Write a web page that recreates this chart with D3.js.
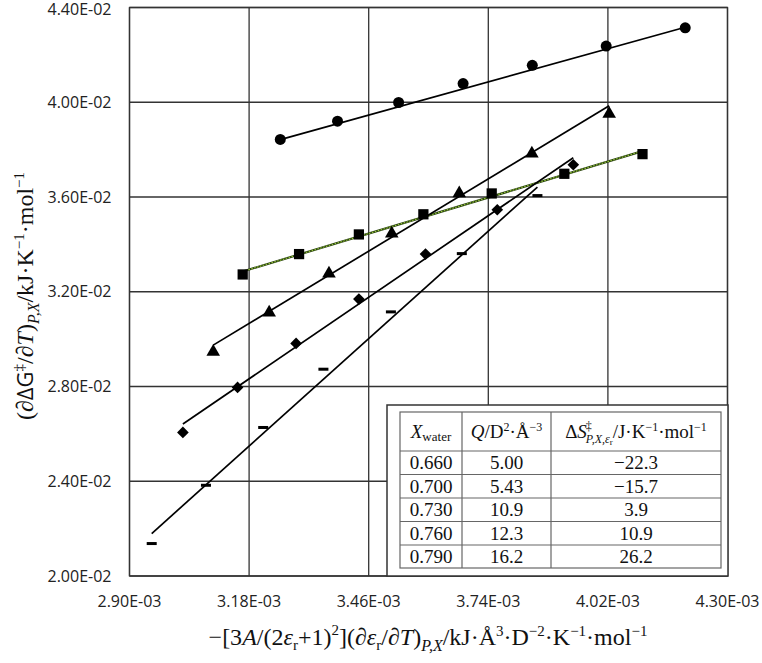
<!DOCTYPE html>
<html>
<head>
<meta charset="utf-8">
<script src="https://d3js.org/d3.v7.min.js"></script>
<style>
    body { margin: 0; background: #fff; }
    .tick-label { font-family: "Open Sans", sans-serif; font-size: 16px; fill: #222; }
    .title { font-family: "Liberation Serif", serif; font-size: 24px; fill: #111; }
    .cell { font-family: "Liberation Serif", serif; font-size: 19px; fill: #111; }
</style>
</head>
<body>
<svg id="chart" width="762" height="663"></svg>

<script>
// axis ticks
const xTicks = [0.00290, 0.00318, 0.00346, 0.00374, 0.00402, 0.00430];
const yTicks = [0.020, 0.024, 0.028, 0.032, 0.036, 0.040, 0.044];

// series (one per water mole fraction)
const circX = [0.003253, 0.003387, 0.003530, 0.003681, 0.003843, 0.004016, 0.004201];
const circY = [0.03843, 0.03920, 0.03999, 0.04079, 0.04156, 0.04237, 0.04314];
const squareX = [0.003165, 0.003297, 0.003437, 0.003588, 0.003748, 0.003918, 0.004101];
const squareY = [0.03273, 0.03359, 0.03442, 0.03527, 0.03615, 0.03698, 0.03781];
const triX = [0.003096, 0.003227, 0.003367, 0.003514, 0.003672, 0.003842, 0.004023];
const triY = [0.02946, 0.03112, 0.03277, 0.03446, 0.03615, 0.03783, 0.03951];
const diaX = [0.003025, 0.003153, 0.003290, 0.003437, 0.003593, 0.003761, 0.003939];
const diaY = [0.02606, 0.02796, 0.02982, 0.03169, 0.03359, 0.03546, 0.03736];
const dashX = [0.002952, 0.003079, 0.003213, 0.003354, 0.003512, 0.003678, 0.003855];
const dashY = [0.02137, 0.02383, 0.02627, 0.02873, 0.03115, 0.03361, 0.03606];

// table values
const xWater = ["0.660", "0.700", "0.730", "0.760", "0.790"];
const qValues = ["5.00", "5.43", "10.9", "12.3", "16.2"];
const dSValues = ["\u221222.3", "\u221215.7", "3.9", "10.9", "26.2"];

// trend lines: slope = Q, intercepts
const fitSlopes = [5.00, 5.43, 10.9, 12.3, 16.2];
const fitIntercepts = [0.02216, 0.01567, -0.00400, -0.01079, -0.02603];

const svg = d3.select("#chart");
const margin = { top: 7.5, left: 129.5, right: 34.5, bottom: 87 };
const width = +svg.attr("width");
const height = +svg.attr("height");
const plotW = width - margin.left - margin.right;
const plotH = height - margin.top - margin.bottom;

const x = d3.scaleLinear().domain([0.0029, 0.0043]).range([margin.left, margin.left + plotW]);
const y = d3.scaleLinear().domain([0.020, 0.044]).range([margin.top + plotH, margin.top]);

const sci = d => {
    const [m, e] = d.toExponential(2).split("e");
    const n = Math.abs(+e);
    return m + "E" + (+e < 0 ? "-" : "+") + (n < 10 ? "0" + n : n);
};

// grid
const grid = svg.append("g").attr("stroke", "#333").attr("stroke-width", 1.3);
grid.selectAll("line.v").data(xTicks).join("line")
    .attr("x1", d => x(d)).attr("x2", d => x(d))
    .attr("y1", y(0.020)).attr("y2", y(0.044));
grid.selectAll("line.h").data(yTicks).join("line")
    .attr("x1", x(0.0029)).attr("x2", x(0.0043))
    .attr("y1", d => y(d)).attr("y2", d => y(d));
svg.append("rect")
    .attr("x", x(0.0029)).attr("y", y(0.044))
    .attr("width", plotW).attr("height", plotH)
    .attr("fill", "none").attr("stroke", "#333").attr("stroke-width", 1.3);

// tick labels
svg.append("g").selectAll("text").data(xTicks).join("text")
    .attr("class", "tick-label")
    .attr("x", d => x(d)).attr("y", y(0.020) + 31)
    .attr("text-anchor", "middle")
    .text(sci);
svg.append("g").selectAll("text").data(yTicks).join("text")
    .attr("class", "tick-label")
    .attr("x", x(0.0029) - 18).attr("y", d => Math.max(y(d) + 5.5, 14.5))
    .attr("text-anchor", "end")
    .text(sci);

// series
const series = [
    { xs: circX, ys: circY, shape: "circle" },
    { xs: squareX, ys: squareY, shape: "square" },
    { xs: triX, ys: triY, shape: "triangle" },
    { xs: diaX, ys: diaY, shape: "diamond" },
    { xs: dashX, ys: dashY, shape: "dash" }
];

// trend lines
series.forEach((s, i) => {
    const x0 = d3.min(s.xs), x1 = d3.max(s.xs);
    const f = v => fitSlopes[i] * v + fitIntercepts[i];
    const seg = svg.append("line")
        .attr("x1", x(x0)).attr("y1", y(f(x0)))
        .attr("x2", x(x1)).attr("y2", y(f(x1)));
    if (s.shape === "square") {
        seg.attr("stroke", "#2c4512").attr("stroke-width", 2.2);
        svg.append("line")
            .attr("x1", x(x0)).attr("y1", y(f(x0)))
            .attr("x2", x(x1)).attr("y2", y(f(x1)))
            .attr("stroke", "#9ccc3c").attr("stroke-width", 1.1)
            .attr("stroke-dasharray", "1.5,1.5");
    } else {
        seg.attr("stroke", "#000").attr("stroke-width", 1.7);
    }
});

// markers
const symbolOf = {
    circle: d3.symbol().type(d3.symbolCircle).size(95),
    square: d3.symbol().type(d3.symbolSquare).size(105),
    triangle: d3.symbol().type(d3.symbolTriangle).size(80),
    diamond: d3.symbol().type(d3.symbolSquare).size(68)
};
series.forEach(s => {
    const pts = s.xs.map((v, i) => [v, s.ys[i]]);
    const g = svg.append("g");
    if (s.shape === "dash") {
        g.selectAll("rect").data(pts).join("rect")
            .attr("x", d => x(d[0]) - 5).attr("y", d => y(d[1]) - 1.5)
            .attr("width", 10).attr("height", 3).attr("fill", "#000");
    } else {
        const rot = s.shape === "diamond" ? " rotate(45)" : "";
        g.selectAll("path").data(pts).join("path")
            .attr("d", symbolOf[s.shape])
            .attr("transform", d => "translate(" + x(d[0]) + "," + y(d[1]) + ")" + rot)
            .attr("fill", "#000");
    }
});

// table box
const box = { x: 387, y: 405, w: 341, h: 171 };
svg.append("rect")
    .attr("x", box.x).attr("y", box.y).attr("width", box.w).attr("height", box.h)
    .attr("fill", "#fff").attr("stroke", "#333").attr("stroke-width", 1.5);

const tbl = { cols: [400, 462, 551, 721], rows: [412, 451, 474.5, 498, 521.5, 545, 568] };
const tg = svg.append("g").attr("stroke", "#666").attr("stroke-width", 1.2);
tg.append("rect")
    .attr("x", tbl.cols[0]).attr("y", tbl.rows[0])
    .attr("width", tbl.cols[3] - tbl.cols[0]).attr("height", tbl.rows[6] - tbl.rows[0])
    .attr("fill", "none");
tg.selectAll("line.r").data(tbl.rows.slice(1, 6)).join("line")
    .attr("x1", tbl.cols[0]).attr("x2", tbl.cols[3])
    .attr("y1", d => d).attr("y2", d => d);
tg.selectAll("line.c").data(tbl.cols.slice(1, 3)).join("line")
    .attr("x1", d => d).attr("x2", d => d)
    .attr("y1", tbl.rows[0]).attr("y2", tbl.rows[6]);

const colMid = [0, 1, 2].map(i => (tbl.cols[i] + tbl.cols[i + 1]) / 2);
const rowBase = i => (tbl.rows[i + 1] + tbl.rows[i + 2]) / 2 + 6.5;
[xWater, qValues, dSValues].forEach((col, ci) => {
    svg.append("g").selectAll("text").data(col).join("text")
        .attr("class", "cell")
        .attr("x", colMid[ci]).attr("y", (d, i) => rowBase(i))
        .attr("text-anchor", "middle")
        .text(d => d);
});

// table header
const hy = (tbl.rows[0] + tbl.rows[1]) / 2 + 6;
const h1 = svg.append("text").attr("class", "cell").attr("x", colMid[0]).attr("y", hy).attr("text-anchor", "middle");
h1.append("tspan").attr("font-style", "italic").text("X");
h1.append("tspan").attr("font-size", "13px").attr("dy", 3).text("water");

const h2 = svg.append("text").attr("class", "cell").attr("x", colMid[1]).attr("y", hy).attr("text-anchor", "middle");
h2.append("tspan").attr("font-style", "italic").text("Q");
h2.append("tspan").text("/D");
h2.append("tspan").attr("font-size", "12px").attr("dy", -7).text("2");
h2.append("tspan").attr("dy", 7).text("\u00b7\u00c5");
h2.append("tspan").attr("font-size", "12px").attr("dy", -7).text("\u22123");

const h3 = svg.append("text").attr("class", "cell").attr("x", colMid[2]).attr("y", hy).attr("text-anchor", "middle");
h3.append("tspan").text("\u0394");
h3.append("tspan").attr("font-style", "italic").text("S");
h3.append("tspan").attr("font-size", "12px").attr("dy", -8).attr("dx", -1).text("\u2021");
h3.append("tspan").attr("font-size", "12px").attr("font-style", "italic").attr("dy", 13).attr("dx", -6).text("P,X,\u03b5");
h3.append("tspan").attr("font-size", "9px").attr("dy", 2).text("r");
h3.append("tspan").attr("dy", -7).text("/J\u00b7K");
h3.append("tspan").attr("font-size", "12px").attr("dy", -7).text("\u22121");
h3.append("tspan").attr("dy", 7).text("\u00b7mol");
h3.append("tspan").attr("font-size", "12px").attr("dy", -7).text("\u22121");

// x axis title
const xt = svg.append("text").attr("class", "title")
    .attr("x", 428).attr("y", 645).attr("text-anchor", "middle");
xt.append("tspan").text("\u2212[3");
xt.append("tspan").attr("font-style", "italic").text("A");
xt.append("tspan").text("/(2");
xt.append("tspan").attr("font-style", "italic").text("\u03b5");
xt.append("tspan").attr("font-size", "15px").attr("dy", 5).text("r");
xt.append("tspan").attr("dy", -5).text("+1)");
xt.append("tspan").attr("font-size", "15px").attr("dy", -10).text("2");
xt.append("tspan").attr("dy", 10).text("](\u2202");
xt.append("tspan").attr("font-style", "italic").text("\u03b5");
xt.append("tspan").attr("font-size", "15px").attr("dy", 5).text("r");
xt.append("tspan").attr("dy", -5).text("/\u2202");
xt.append("tspan").attr("font-style", "italic").text("T");
xt.append("tspan").text(")");
xt.append("tspan").attr("font-size", "16px").attr("font-style", "italic").attr("dy", 6).text("P,X");
xt.append("tspan").attr("dy", -6).text("/kJ\u00b7\u00c5");
xt.append("tspan").attr("font-size", "15px").attr("dy", -9).text("3");
xt.append("tspan").attr("dy", 9).text("\u00b7D");
xt.append("tspan").attr("font-size", "15px").attr("dy", -9).text("\u22122");
xt.append("tspan").attr("dy", 9).text("\u00b7K");
xt.append("tspan").attr("font-size", "15px").attr("dy", -9).text("\u22121");
xt.append("tspan").attr("dy", 9).text("\u00b7mol");
xt.append("tspan").attr("font-size", "15px").attr("dy", -9).text("\u22121");

// y axis title
const yt = svg.append("text").attr("class", "title")
    .attr("transform", "translate(33,296) rotate(-90)")
    .attr("text-anchor", "middle");
yt.append("tspan").text("(\u2202");
yt.append("tspan").attr("font-family", "'Open Sans', sans-serif").attr("font-size", "22px").text("\u0394G");
yt.append("tspan").attr("font-size", "15px").attr("dy", -9).text("\u2021");
yt.append("tspan").attr("dy", 9).text("/\u2202");
yt.append("tspan").attr("font-style", "italic").text("T");
yt.append("tspan").text(")");
yt.append("tspan").attr("font-size", "16px").attr("font-style", "italic").attr("dy", 6).text("P,X");
yt.append("tspan").attr("dy", -6).text("/kJ\u00b7K");
yt.append("tspan").attr("font-size", "15px").attr("dy", -9).text("\u22121");
yt.append("tspan").attr("dy", 9).text("\u00b7mol");
yt.append("tspan").attr("font-size", "15px").attr("dy", -9).text("\u22121");
</script>
</body>
</html>
